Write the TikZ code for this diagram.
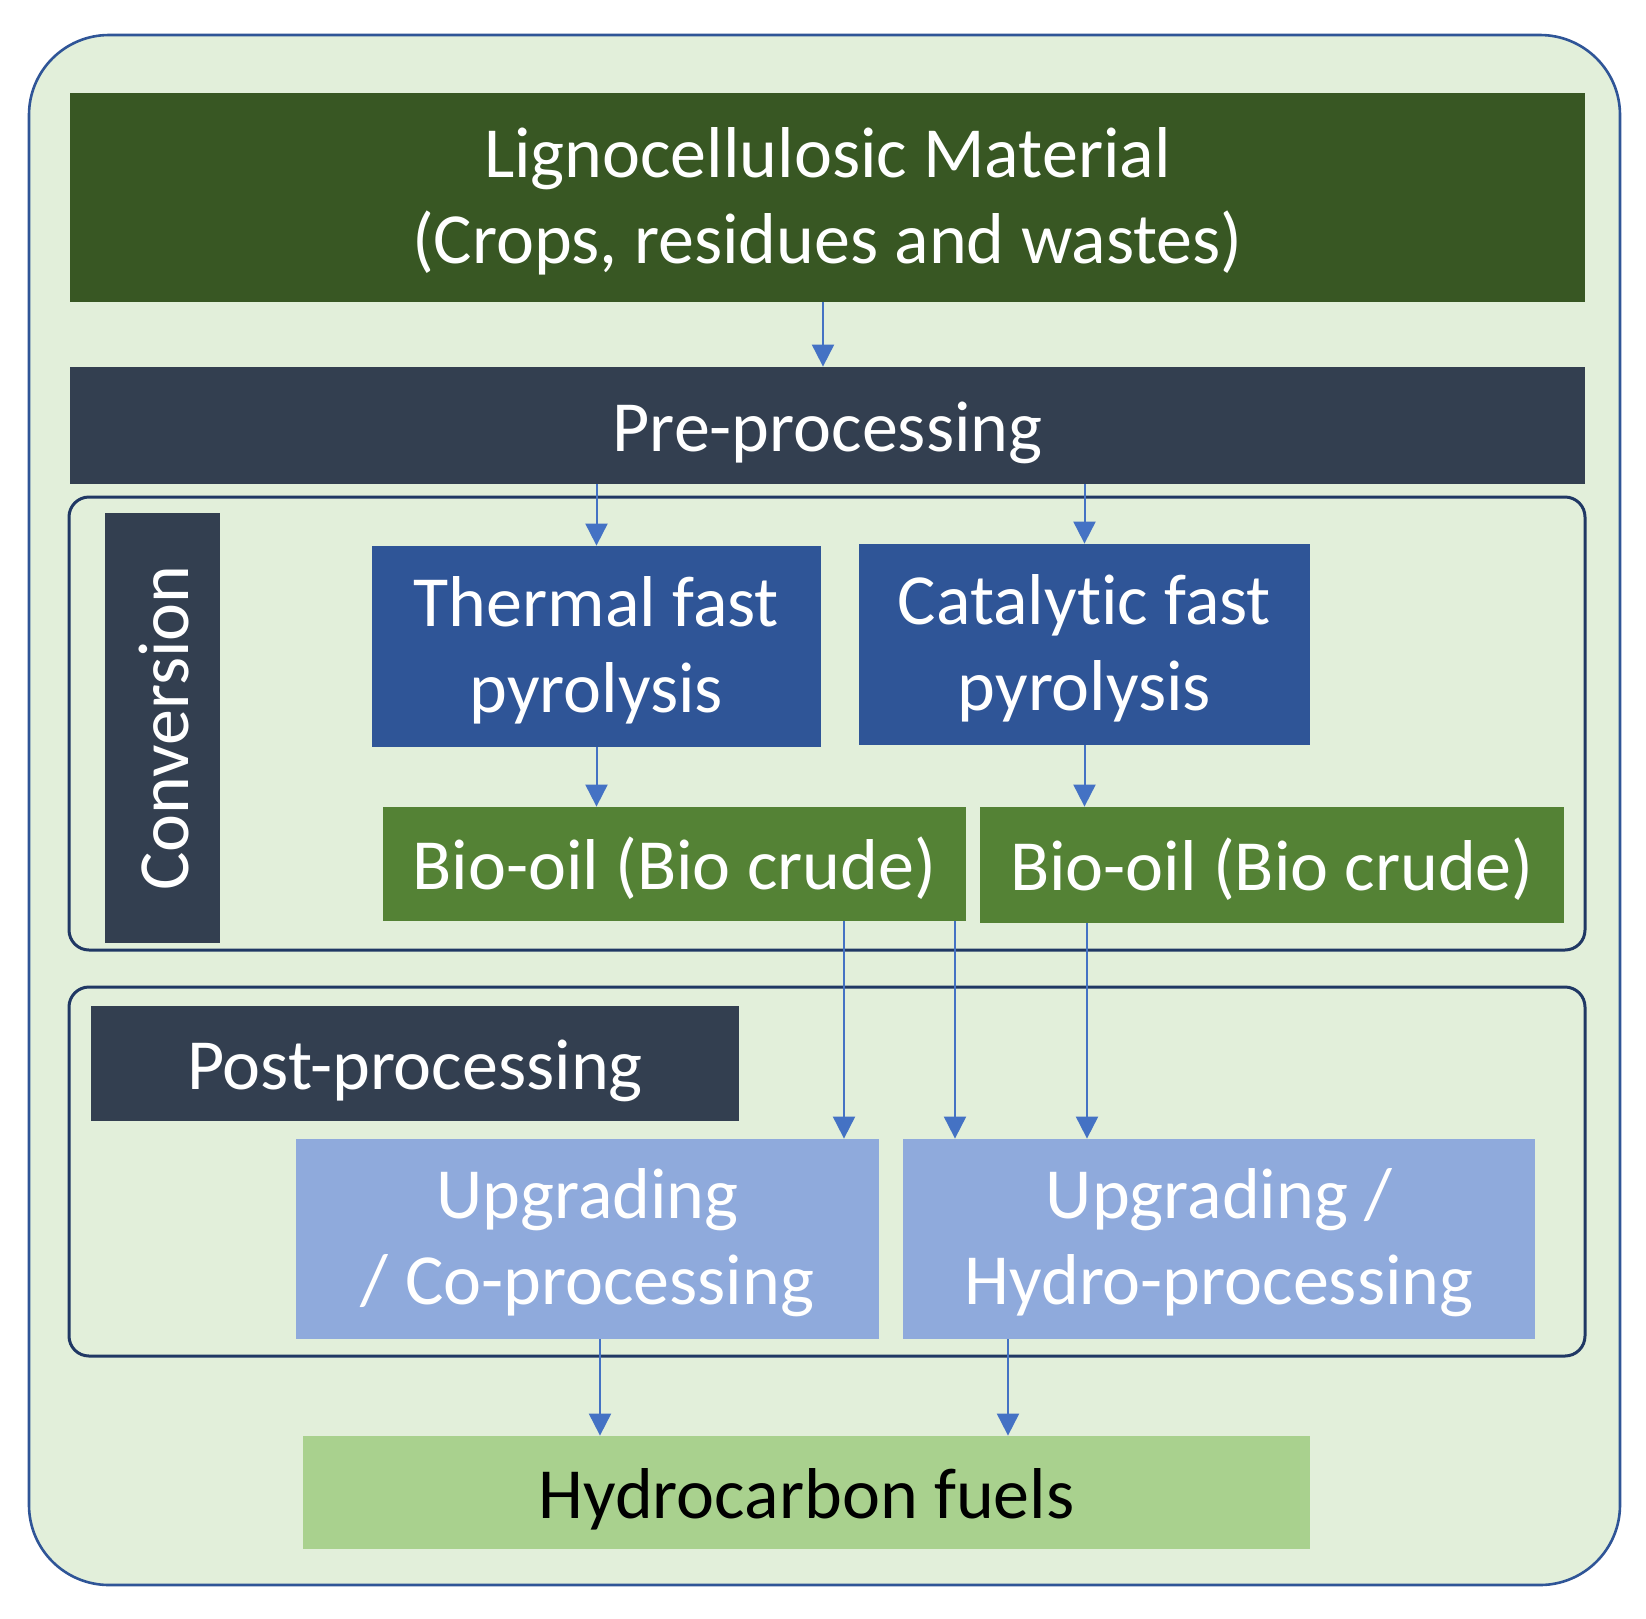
\documentclass[tikz,border=0pt]{standalone}
\usepackage{fontspec}
\setmainfont{Carlito}[Ligatures=NoCommon]
\usetikzlibrary{positioning,arrows.meta}
\definecolor{paper}{HTML}{E2EFDA}
\definecolor{frame}{HTML}{2F5597}
\definecolor{stage}{HTML}{203864}
\definecolor{feed}{HTML}{385723}
\definecolor{navy}{HTML}{333F50}
\definecolor{pyro}{HTML}{2F5597}
\definecolor{oil}{HTML}{548235}
\definecolor{upgrade}{HTML}{8FAADC}
\definecolor{fuel}{HTML}{A9D18E}
\definecolor{flowline}{HTML}{4472C4}

\begin{document}
\begin{tikzpicture}[x=0.5pt,y=-0.5pt,
  font=\fontsize{36}{43}\selectfont,
  block/.style={inner sep=0pt,align=center,text=white},
  oneline/.style={text height=32pt,text depth=6.5pt},
  twolines/.style={text height=74pt,text depth=8.5pt},
  flow/.style={-{Triangle[length=11pt,width=11pt]},flowline,line width=1pt},
  stagebox/.style={draw=stage,line width=1.5pt,rounded corners=10pt}]
\useasboundingbox (0,0) rectangle (1646,1619);
\draw[frame,line width=1.3pt,fill=paper,rounded corners=40pt] (29,35) rectangle (1620,1585);

% stage frames
\draw[stagebox] (69,497) rectangle (1585,950);
\draw[stagebox] (69,987) rectangle (1585,1356);

\node[block,twolines,fill=feed,minimum width=757.5pt,minimum height=104.5pt] (ligno) at (827.5,197.5)
  {Lignocellulosic Material\\(Crops, residues and wastes)};
\node[block,oneline,fill=navy,minimum width=757.5pt,minimum height=58.5pt] (pre) at (827.5,425.5) {Pre-processing};

% conversion
\node[block,oneline,fill=navy,rotate=90,minimum width=215pt,minimum height=57.5pt] (convlbl) at (162.5,728) {Conversion};
\node[block,twolines,fill=pyro,minimum width=224.5pt,minimum height=100.5pt] (thermal) at (596.5,646.5) {Thermal fast\\pyrolysis};
\node[block,twolines,fill=pyro,minimum width=225.5pt,minimum height=100.5pt] (catalytic) at (1084.5,644.5) {Catalytic fast\\pyrolysis};
\node[block,oneline,fill=oil,minimum width=291.5pt,minimum height=57pt] (oilA) at (674.5,864) {Bio-oil (Bio crude)};
\node[block,oneline,fill=oil,minimum width=292pt,minimum height=58pt] (oilB) at (1272,865) {Bio-oil (Bio crude)};

% post-processing
\node[block,oneline,fill=navy,minimum width=324pt,minimum height=57.5pt] (postlbl) at (415,1063.5) {Post-processing};
\node[block,twolines,fill=upgrade,minimum width=291.5pt,minimum height=100pt] (upgco) at (587.5,1239) {Upgrading\\/ Co-processing};
\node[block,twolines,fill=upgrade,minimum width=316pt,minimum height=100pt] (upghydro) at (1219,1239) {Upgrading /\\Hydro-processing};

\node[block,oneline,fill=fuel,text=black,minimum width=503.5pt,minimum height=56.5pt] (fuels) at (806.5,1492.5) {Hydrocarbon fuels};

\draw[flow] (ligno.south -| 823,0) -- (pre.north -| 823,0);
\draw[flow] (pre.south -| thermal.north) -- (thermal.north);
\draw[flow] (pre.south -| catalytic.north) -- (catalytic.north);
\draw[flow] (thermal.south) -- (thermal.south |- oilA.north);
\draw[flow] (catalytic.south) -- (catalytic.south |- oilB.north);
\draw[flow] (oilA.south -| 844,0) -- (upgco.north -| 844,0);
\draw[flow] (oilA.south -| 955,0) -- (upghydro.north -| 955,0);
\draw[flow] (oilB.south -| 1087,0) -- (upghydro.north -| 1087,0);
\draw[flow] (upgco.south -| 600,0) -- (fuels.north -| 600,0);
\draw[flow] (upghydro.south -| 1008,0) -- (fuels.north -| 1008,0);
\end{tikzpicture}
\end{document}
